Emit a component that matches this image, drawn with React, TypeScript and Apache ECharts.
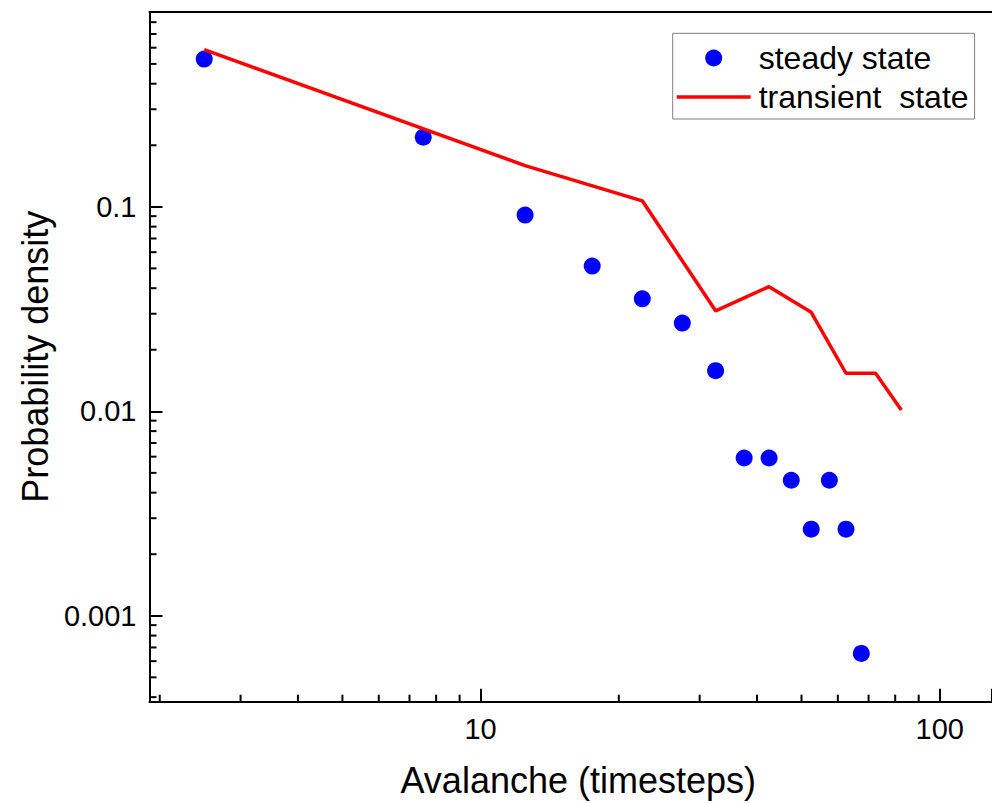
import React, { useEffect, useRef } from 'react';
import * as echarts from 'echarts';

// Data
const steadyX = [2.5, 7.5, 12.5, 17.5, 22.5, 27.5, 32.5, 37.5, 42.5, 47.5, 52.5, 57.5, 62.5, 67.5];
const steadyY = [0.528, 0.219, 0.0911, 0.0513, 0.0355, 0.027, 0.0158, 0.00591, 0.00591, 0.0046, 0.00265, 0.0046, 0.00265, 0.000654];
const transientX = [2.5, 12.5, 22.5, 32.5, 42.5, 52.5, 62.5, 72.5, 82.5];
const transientY = [0.587, 0.159, 0.107, 0.031, 0.0407, 0.0305, 0.01535, 0.01535, 0.01015];

// Axis settings / tick labels
const xTickLabels = ['10', '100'];
const yTickLabels = ['0.1', '0.01', '0.001'];
const X_MIN = 1.9;
const X_MAX = 130;
const Y_MIN = 0.00038;
const Y_MAX = 0.9;
const minorMultipliers = [2, 3, 4, 5, 6, 7, 8, 9];
const xDecades = [1, 10, 100];
const yDecades = [0.0001, 0.001, 0.01, 0.1];

const FONT = '"Liberation Sans", Arial, sans-serif';

function minorTicks(decades: number[], lo: number, hi: number): number[] {
  const out: number[] = [];
  decades.forEach((d) => {
    minorMultipliers.forEach((m) => {
      const v = d * m;
      if (v > lo && v < hi) out.push(v);
    });
  });
  return out;
}

function labelFormatter(list: string[]) {
  return (v: number) => {
    const l = Math.log10(v);
    if (Math.abs(l - Math.round(l)) > 1e-6) return '';
    const s = list.find((t) => Math.abs(parseFloat(t) - v) < v * 1e-6);
    return s ?? '';
  };
}

export default function App() {
  const ref = useRef<HTMLDivElement>(null);

  useEffect(() => {
    document.body.style.margin = '0';
    if (!ref.current) return;
    const chart = echarts.init(ref.current, undefined, { renderer: 'svg' });

    const xMinor = minorTicks(xDecades, X_MIN, X_MAX).map((v) => [v, Y_MIN]);
    const yMinor = minorTicks(yDecades, Y_MIN, Y_MAX).map((v) => [X_MIN, v]);

    const option: any = {
      animation: false,
      backgroundColor: '#ffffff',
      grid: {
        left: 149.5,
        top: 11.7,
        right: 0,
        bottom: 101.3,
        containLabel: false,
        outerBoundsMode: 'none',
      },
      legend: {
        data: [
          { name: 'steady state', icon: 'circle' },
          { name: 'transient  state', icon: 'path://M0,0H74V3.6H0Z' },
        ],
        orient: 'vertical',
        left: 672.7,
        top: 33.3,
        padding: [8.7, 6, 6, 4],
        itemWidth: 74,
        itemHeight: 17,
        itemGap: 7,
        borderColor: '#808080',
        borderWidth: 1,
        textStyle: { fontSize: 32, color: '#000', fontFamily: FONT, lineHeight: 32, padding: [0, 0, 0, 3] },
      },
      xAxis: [
        {
          type: 'log',
          logBase: 10,
          min: X_MIN,
          max: X_MAX,
          position: 'bottom',
          axisLine: { lineStyle: { color: '#000', width: 2 } },
          axisTick: { inside: true, length: 13, lineStyle: { color: '#000', width: 2 } },
          axisLabel: { formatter: labelFormatter(xTickLabels), fontSize: 29, color: '#000', margin: 13, fontFamily: FONT },
          splitLine: { show: false },
          name: 'Avalanche (timesteps)',
          nameLocation: 'middle',
          nameGap: 61,
          nameTextStyle: { fontSize: 36, color: '#000', fontFamily: FONT, padding: [0, 0, 0, 15] },
        },
        {
          type: 'log',
          logBase: 10,
          min: X_MIN,
          max: X_MAX,
          position: 'top',
          axisLine: { show: true, lineStyle: { color: '#000', width: 2 } },
          axisTick: { show: false },
          axisLabel: { show: false },
          splitLine: { show: false },
        },
      ],
      yAxis: [
        {
          type: 'log',
          logBase: 10,
          min: Y_MIN,
          max: Y_MAX,
          position: 'left',
          axisLine: { show: true, lineStyle: { color: '#000', width: 2 } },
          axisTick: { show: true, inside: true, length: 13, lineStyle: { color: '#000', width: 2 } },
          axisLabel: { formatter: labelFormatter(yTickLabels), fontSize: 29, color: '#000', margin: 13, fontFamily: FONT },
          splitLine: { show: false },
          name: 'Probability density',
          nameLocation: 'middle',
          nameGap: 92,
          nameTextStyle: { fontSize: 36, color: '#000', fontFamily: FONT },
        },
      ],
      series: [
        {
          name: 'steady state',
          type: 'scatter',
          symbol: 'circle',
          symbolSize: 17,
          itemStyle: { color: '#0000ff', opacity: 1 },
          data: steadyX.map((x, i) => [x, steadyY[i]]),
          z: 3,
        },
        {
          name: 'transient  state',
          type: 'line',
          symbol: 'none',
          showSymbol: false,
          lineStyle: { color: '#ff0000', width: 3.5 },
          itemStyle: { color: '#ff0000' },
          data: transientX.map((x, i) => [x, transientY[i]]),
          z: 4,
        },
        {
          name: 'xMinorTicks',
          type: 'custom',
          silent: true,
          clip: false,
          z: 5,
          data: xMinor,
          renderItem: (_p: any, api: any) => {
            const pt = api.coord([api.value(0), api.value(1)]);
            return {
              type: 'line',
              shape: { x1: pt[0], y1: pt[1], x2: pt[0], y2: pt[1] - 7 },
              style: { stroke: '#000', lineWidth: 2 },
            };
          },
        },
        {
          name: 'yMinorTicks',
          type: 'custom',
          silent: true,
          clip: false,
          z: 5,
          data: yMinor,
          renderItem: (_p: any, api: any) => {
            const pt = api.coord([api.value(0), api.value(1)]);
            return {
              type: 'line',
              shape: { x1: pt[0], y1: pt[1], x2: pt[0] + 7, y2: pt[1] },
              style: { stroke: '#000', lineWidth: 2 },
            };
          },
        },
      ],
    };

    chart.setOption(option);
    return () => chart.dispose();
  }, []);

  return <div ref={ref} style={{ width: 992, height: 803, position: 'absolute', left: 0, top: 0 }} />;
}
